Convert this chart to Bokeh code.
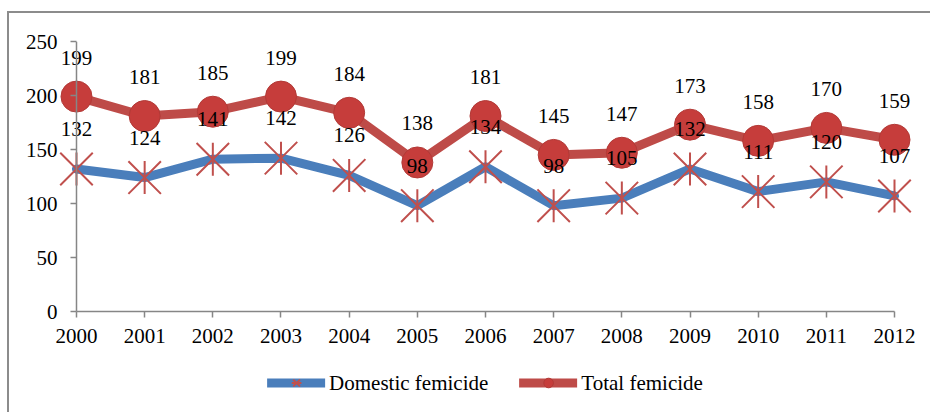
from math import pi
from bokeh.plotting import figure
from bokeh.layouts import column
from bokeh.models import (ColumnDataSource, Range1d, FixedTicker, Legend, LegendItem, Span)
from bokeh.core.properties import value
from bokeh.embed import file_html
from bokeh.resources import INLINE

# ---- data ----
years = [2000, 2001, 2002, 2003, 2004, 2005, 2006, 2007, 2008, 2009, 2010, 2011, 2012]
domestic = [132, 124, 141, 142, 126, 98, 134, 98, 105, 132, 111, 120, 107]
total = [199, 181, 185, 199, 184, 138, 181, 145, 147, 173, 158, 170, 159]
y_ticks = [0, 50, 100, 150, 200, 250]
series_names = ["Domestic femicide", "Total femicide"]

FONT = "Liberation Serif"
BLUE = "#4A7EBB"
RED_LINE = "#BE4B48"
RED_MARK = "#C0504D"
RED_FILL = "#C63D3B"
RED_EDGE = "#B23A37"
AXIS = "#868686"
FRAME_BORDER = "#8C8C8C"

src = ColumnDataSource(dict(
    year=years, domestic=domestic, total=total,
    dlab=[str(v) for v in domestic], tlab=[str(v) for v in total],
))

W = 921
H_MAIN = 340
H_LEG = 59

pad = 0.264
p = figure(width=W, height=H_MAIN, output_backend="svg", toolbar_location=None,
           x_range=Range1d(years[0] - pad, years[-1] + pad), y_range=Range1d(y_ticks[0], y_ticks[-1]),
           min_border_left=49, min_border_right=18, min_border_top=28, min_border_bottom=42)
p.grid.visible = False
p.outline_line_color = None
p.background_fill_color = "white"
p.border_fill_color = "white"

ax = p.xaxis[0]
ax.ticker = FixedTicker(ticks=years)
ax.bounds = (years[0], years[-1])
ax.axis_line_color = AXIS
ax.axis_line_width = 1.5
ax.major_tick_line_color = AXIS
ax.major_tick_line_width = 1.5
ax.major_tick_out = 6
ax.major_tick_in = 0
ax.minor_tick_line_color = None
ax.major_label_text_font = FONT
ax.major_label_text_font_size = "21px"
ax.major_label_text_color = "black"
ax.major_label_standoff = 11

# y axis: labels from the axis, its line drawn at the first year, ticks pushed to it
ay = p.yaxis[0]
ay.ticker = FixedTicker(ticks=y_ticks)
ay.axis_line_color = None
ay.major_tick_line_color = AXIS
ay.major_tick_line_width = 1.5
ay.major_tick_out = 0
ay.major_tick_in = 18
ay.major_tick_line_dash = "0 12 6"
ay.minor_tick_line_color = None
ay.major_label_text_font = FONT
ay.major_label_text_font_size = "21px"
ay.major_label_text_color = "black"
ay.major_label_standoff = 1

p.add_layout(Span(location=years[0], dimension="height", line_color=AXIS, line_width=1.5))


def draw_series(fig, x_size, dash_size, circle_size):
    dl = fig.line("year", "domestic", source=src, line_color=BLUE, line_width=9,
                  line_cap="round", line_join="round")
    dx = fig.scatter("year", "domestic", source=src, marker="x", size=x_size,
                     line_color=RED_MARK, line_width=2)
    dv = fig.scatter("year", "domestic", source=src, marker="dash", angle=pi / 2, size=dash_size,
                     line_color=RED_MARK, line_width=2)
    tl = fig.line("year", "total", source=src, line_color=RED_LINE, line_width=9,
                  line_cap="round", line_join="round")
    tc = fig.scatter("year", "total", source=src, marker="circle", size=circle_size,
                     fill_color=RED_FILL, line_color=RED_EDGE, line_width=1)
    return dl, dx, dv, tl, tc


draw_series(p, 46, 33, 31)

# data labels
p.text("year", "total", text="tlab", source=src, text_font=value(FONT), text_font_size="21px",
       text_color="black", text_align="center", text_baseline="middle", y_offset=-39)
p.text("year", "domestic", text="dlab", source=src, text_font=value(FONT), text_font_size="21px",
       text_color="black", text_align="center", text_baseline="middle", y_offset=-40)

# legend strip (same series styles, view kept away from the data)
pl = figure(width=W, height=H_LEG, output_backend="svg", toolbar_location=None,
            x_axis_location=None, y_axis_location=None,
            x_range=Range1d(0, 1), y_range=Range1d(0, 1),
            min_border_left=0, min_border_right=6, min_border_top=0, min_border_bottom=0)
pl.grid.visible = False
pl.outline_line_color = None
pl.background_fill_color = "white"
pl.border_fill_color = "white"
ldl, ldx, ldv, ltl, ltc = draw_series(pl, 13, 9, 12)

legend = Legend(items=[LegendItem(label=series_names[0], renderers=[ldl, ldx, ldv]),
                       LegendItem(label=series_names[1], renderers=[ltl, ltc])],
                orientation="horizontal", location="center",
                glyph_width=58, glyph_height=24, label_standoff=4, spacing=31,
                label_text_font=FONT, label_text_font_size="21px", label_text_color="black",
                border_line_color=None, background_fill_alpha=0, padding=0, margin=0)
pl.add_layout(legend)

page = column(p, pl, spacing=0)
page.styles = {"margin-left": "7px", "margin-top": "11px",
               "border-left": "2px solid " + FRAME_BORDER, "border-top": "2px solid " + FRAME_BORDER}

open("out.html", "w").write(file_html(page, INLINE))
